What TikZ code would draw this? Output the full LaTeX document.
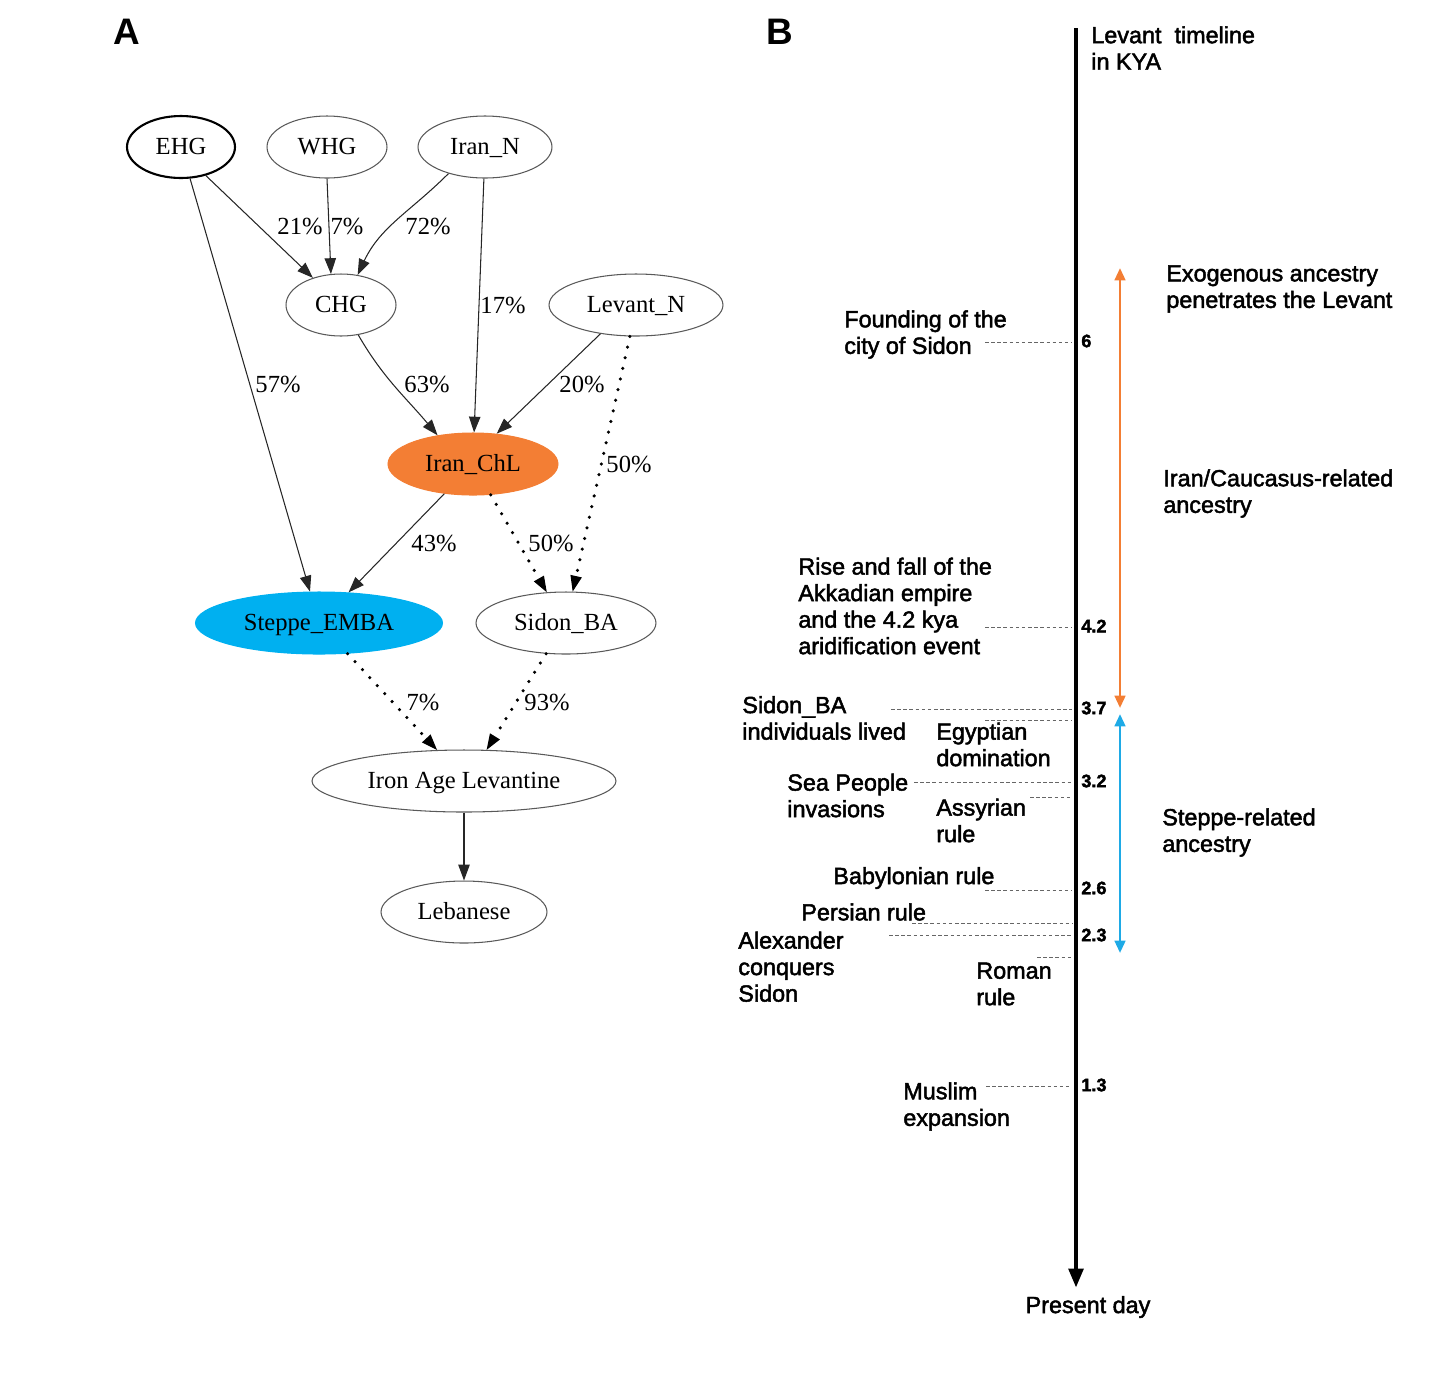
\documentclass[tikz,border=0pt]{standalone}
\usepackage{fontspec}
\setmainfont{Liberation Serif}
\setsansfont{Liberation Sans}[FakeBold=2]
\newfontfamily\panelfont{Liberation Sans}
\usetikzlibrary{arrows.meta,shapes.geometric}

\begin{document}
\begin{tikzpicture}[x=0.02cm,y=-0.02cm,
  pop/.style={ellipse,draw=black!65,line width=0.6pt,inner sep=0pt,minimum height=1.24cm,text height=10pt,text depth=2pt,font=\fontsize{14}{16}\selectfont},
  mix/.style={line width=0.6pt,draw=black!85,-{Triangle[length=9pt,width=6.5pt,line width=0.6pt]}},
  dots/.style={mix,draw=black,line width=2pt,line cap=round,dash pattern=on 0pt off 6.2pt},
  pct/.style={font=\fontsize{14}{16}\selectfont,inner sep=0pt},
  event/.style={font=\sffamily\fontsize{13.3}{15.1}\selectfont,align=left,anchor=west,inner sep=0pt},
  kya/.style={font=\sffamily\bfseries\fontsize{10.3}{12}\selectfont,anchor=west,inner sep=0pt},
  panel/.style={font=\panelfont\bfseries\fontsize{21}{24}\selectfont},
  guide/.style={draw=black!60,line width=0.5pt,dash pattern=on 2pt off 1.5pt},
  span/.style={line width=1.5pt,{Triangle[length=7pt,width=6pt]}-{Triangle[length=7pt,width=6pt]}}]

\definecolor{chlorange}{RGB}{243,126,52}
\definecolor{steppeblue}{RGB}{0,176,240}
\definecolor{spanblue}{RGB}{30,170,230}

\useasboundingbox (0,0) rectangle (1446,1377);

% panel letters
\node[panel] (panA) at (127,32) {A};
\node[panel] (panB) at (780,32) {B};

% admixture graph
\node[pop,draw=black,line width=1.2pt,minimum width=2.16cm] (ehg) at (181,147) {EHG};
\node[pop,minimum width=2.4cm] (whg) at (327,147) {WHG};
\node[pop,minimum width=2.68cm] (irann) at (485,147) {Iran\_N};
\node[pop,minimum width=2.2cm] (chg) at (341,305) {CHG};
\node[pop,minimum width=3.48cm] (levn) at (636,305) {Levant\_N};
\node[pop,fill=chlorange,draw=chlorange,minimum width=3.4cm] (iranchl) at (473,464) {Iran\_ChL};
\node[pop,fill=steppeblue,draw=steppeblue,minimum width=4.94cm] (steppe) at (319,623) {Steppe\_EMBA};
\node[pop,minimum width=3.6cm] (sidon) at (566,623) {Sidon\_BA};
\node[pop,minimum width=6.08cm] (iron) at (464,781) {Iron Age Levantine};
\node[pop,minimum width=3.32cm] (leb) at (464,912) {Lebanese};

\draw[mix] (ehg.-49) -- (chg.136);
\draw[mix] (whg.-90) -- (chg.108);
\draw[mix] (irann.-144) to[out=-135,in=65] (chg.61);
\draw[mix] (irann.-92) -- (iranchl.88);
\draw[mix] (ehg.-74) -- (steppe.106);
\draw[mix] (chg.-60) to[out=-60,in=130] (iranchl.141);
\draw[mix] (levn.-141) -- (iranchl.52);
\draw[dots] (levn.-101) -- (sidon.78);
\draw[mix] (iranchl.-134) -- (steppe.46);
\draw[dots] (iranchl.-60) -- (sidon.122);
\draw[dots] (steppe.-47) -- (iron.131);
\draw[dots] (sidon.-123) -- (iron.54);
\draw[mix] (iron) -- (leb);

\node[pct] (p21) at (300,226) {21\%};
\node[pct] (p7a) at (347,226) {7\%};
\node[pct] (p72) at (428,226) {72\%};
\node[pct] (p17) at (503,305) {17\%};
\node[pct] (p57) at (278,384) {57\%};
\node[pct] (p63) at (427,384) {63\%};
\node[pct] (p20) at (582,384) {20\%};
\node[pct] (p50a) at (629,464) {50\%};
\node[pct] (p43) at (434,543) {43\%};
\node[pct] (p50b) at (551,543) {50\%};
\node[pct] (p7b) at (423,702) {7\%};
\node[pct] (p93) at (547,702) {93\%};

% timeline
\coordinate (ttop) at (1076,28);
\coordinate (tend) at (1076,1288);
\draw[line width=2.8pt,-{Triangle[length=11pt,width=8pt]}] (ttop) -- (tend);

\node[event] (title) at (1091,48) {Levant\ \ timeline\\in KYA};
\node[font=\sffamily\fontsize{13.3}{15.1}\selectfont] (today) at (1088,1307) {Present day};

\foreach \xs/\yy in {985/342,985/627,891/709,985/720,914/782,1030/797,985/890,912/923,889/935,1037/957,986/1086}
  \draw[guide] (\xs,\yy) -- (1072,\yy);

\foreach \v/\yy [count=\i] in {6/341,4.2/626,3.7/708,3.2/781,2.6/888,2.3/935,1.3/1085}
  \node[kya] (kya\i) at (1081,\yy) {\v};

\node[event] (found) at (844,334.5) {Founding of the\\city of Sidon};
\node[event] (akkad) at (798,606) {Rise and fall of the\\Akkadian empire\\and the 4.2 kya\\aridification event};
\node[event] (sidonba) at (742,718) {Sidon\_BA\\individuals lived};
\node[event] (egypt) at (936,744.5) {Egyptian\\domination};
\node[event] (seapeople) at (787,795.5) {Sea People\\invasions};
\node[event] (assyria) at (936,820.5) {Assyrian\\rule};
\node[event] (babylon) at (833,878) {Babylonian rule};
\node[event] (persia) at (801,912) {Persian rule};
\node[event] (alexander) at (738,966.7) {Alexander\\conquers\\Sidon};
\node[event] (rome) at (976,984) {Roman\\rule};
\node[event] (muslim) at (903,1106.5) {Muslim\\expansion};

% ancestry spans
\coordinate (otop) at (1120,268);
\coordinate (obot) at (1120,708);
\coordinate (btop) at (1120,714);
\coordinate (bbot) at (1120,953);
\draw[span,chlorange] (otop) -- (obot);
\draw[span,spanblue] (btop) -- (bbot);

\node[event] (exo) at (1166,289) {Exogenous ancestry\\penetrates the Levant};
\node[event] (iranrel) at (1163,493.5) {Iran/Caucasus-related\\ancestry};
\node[event] (stepperel) at (1162,832.5) {Steppe-related\\ancestry};

\end{tikzpicture}
\end{document}
